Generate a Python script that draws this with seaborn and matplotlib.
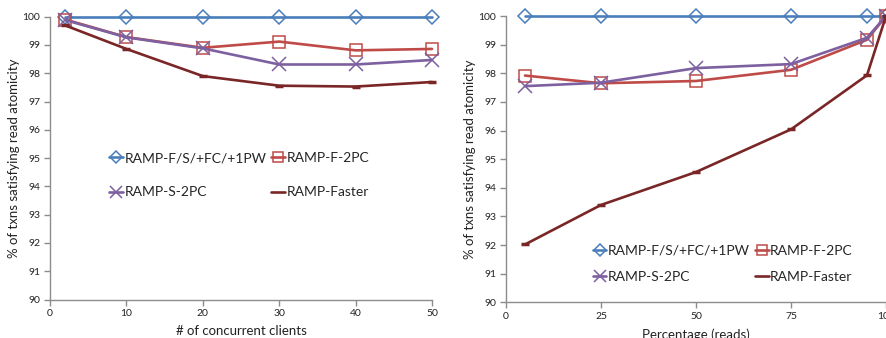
import matplotlib
matplotlib.use("Agg")
import matplotlib.pyplot as plt
import seaborn as sns
import pandas as pd
from matplotlib.lines import Line2D

sns.set_style("white")
plt.rcParams['font.family'] = ['Lato', 'DejaVu Sans']

series_names = ["RAMP-F/S/+FC/+1PW", "RAMP-F-2PC", "RAMP-S-2PC", "RAMP-Faster"]

# Left: # of concurrent clients
clients = [2, 10, 20, 30, 40, 50]
left_fs = [100, 100, 100, 100, 100, 100]
left_f2pc = [99.9, 99.28, 98.9, 99.12, 98.81, 98.86]
left_s2pc = [99.88, 99.27, 98.88, 98.31, 98.31, 98.47]
left_faster = [99.69, 98.86, 97.9, 97.56, 97.53, 97.69]

# Right: Percentage reads
reads = [5, 25, 50, 75, 95, 100]
right_fs = [100, 100, 100, 100, 100, 100]
right_f2pc = [97.92, 97.65, 97.73, 98.12, 99.17, 100]
right_s2pc = [97.55, 97.67, 98.18, 98.32, 99.24, 100]
right_faster = [92.02, 93.4, 94.55, 96.04, 97.93, 100]

left_xticks = [0, 10, 20, 30, 40, 50]
right_xticks = [0, 25, 50, 75, 100]
yticks = list(range(90, 101))

colors = ["#4A7EBB", "#BE4B48", "#7D60A0", "#7A2626"]
markers = ["D", "s", "x", "_"]
msizes = [7, 9, 10, 6]

fig = plt.figure(figsize=(8.87, 3.38), dpi=100)
W, H = 887, 338
axL = fig.add_axes([50 / W, 1 - 299.5 / H, (432 - 50) / W, (299.5 - 16.7) / H])
axR = fig.add_axes([506 / W, 1 - 302.3 / H, (886 - 506) / W, (302.3 - 16) / H])


def draw(ax, xs, ys_list):
    for name, ys, c, m, ms in zip(series_names, ys_list, colors, markers, msizes):
        df = pd.DataFrame({"x": xs, "y": ys})
        mk = dict(marker=m, markersize=ms, markeredgecolor=c, markeredgewidth=1.1)
        if m in ("D", "s"):
            mk["markerfacecolor"] = "none"
        if m == "_":
            mk["markeredgewidth"] = 2.5
        sns.lineplot(data=df, x="x", y="y", ax=ax, color=c, linewidth=1.9,
                     clip_on=False, zorder=3, **mk)


draw(axL, clients, [left_fs, left_f2pc, left_s2pc, left_faster])
draw(axR, reads, [right_fs, right_f2pc, right_s2pc, right_faster])

for ax, xt, xl in [(axL, left_xticks, "# of concurrent clients"),
                   (axR, right_xticks, "Percentage (reads)")]:
    ax.set_xlim(xt[0], xt[-1])
    ax.set_ylim(90, 100)
    ax.set_xticks(xt)
    ax.set_yticks(yticks)
    ax.set_xlabel(xl, fontsize=9.5, color="#222222", labelpad=5)
    ax.set_ylabel("% of txns satisfying read atomicity", fontsize=9.5, color="#222222", labelpad=2)
    for s in ["top", "right"]:
        ax.spines[s].set_visible(False)
    for s in ["left", "bottom"]:
        ax.spines[s].set_color("#8C8C8C")
        ax.spines[s].set_linewidth(1.0)
    ax.tick_params(axis="both", direction="out", length=4, width=1, color="#8C8C8C",
                   labelsize=7.5, labelcolor="#222222", left=True, bottom=True, pad=3)


def legend_handles():
    hs = []
    for c, m, ms in zip(colors, markers, msizes):
        kw = dict(marker=m, markersize=ms * 0.85, markeredgecolor=c, markeredgewidth=1.1)
        if m in ("D", "s"):
            kw["markerfacecolor"] = "none"
        if m == "_":
            kw["marker"] = None
        hs.append(Line2D([0], [0], color=c, linewidth=1.9, **kw))
    return hs


hs = legend_handles()
order = [0, 2, 1, 3]
axL.legend([hs[i] for i in order], [series_names[i] for i in order], ncol=2,
           frameon=False, fontsize=10, handlelength=1.0, handletextpad=0.1,
           columnspacing=0.35, labelspacing=1.6, loc="upper left",
           bbox_to_anchor=(0.122, 0.565))
axR.legend([hs[i] for i in order], [series_names[i] for i in order], ncol=2,
           frameon=False, fontsize=10, handlelength=1.0, handletextpad=0.1,
           columnspacing=0.35, labelspacing=1.05, loc="upper left",
           bbox_to_anchor=(0.195, 0.245))

fig.savefig("out.png", dpi=100)
